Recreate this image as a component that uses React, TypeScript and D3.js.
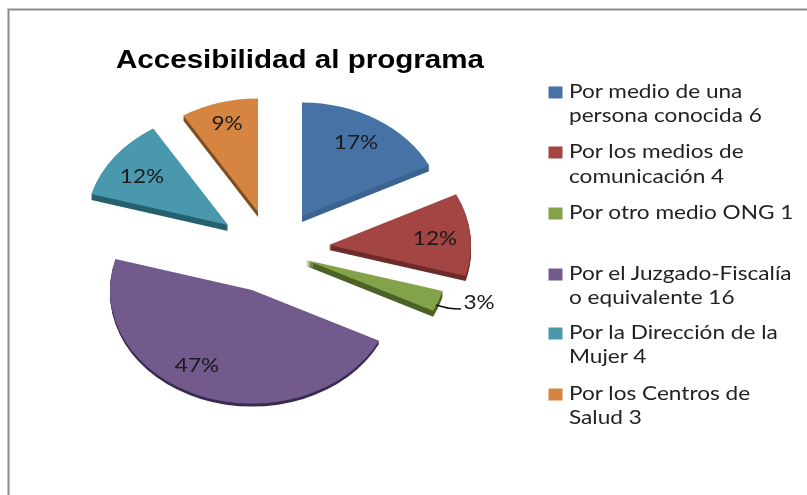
import React from "react";
import * as d3 from "d3";

const titleText = "Accesibilidad al programa";
const categories = [
  ["Por medio de una", "persona conocida 6"],
  ["Por los medios de", "comunicación 4"],
  ["Por otro medio ONG 1"],
  ["Por el Juzgado-Fiscalía", "o equivalente 16"],
  ["Por la Dirección de la", "Mujer 4"],
  ["Por los Centros de", "Salud 3"],
];
const values = [6, 4, 1, 16, 4, 3];
const percentLabels = ["17%", "12%", "3%", "47%", "12%", "9%"];

// styling and layout
const topColors = ["#4672A5", "#A34543", "#82A34A", "#725A8C", "#4898AE", "#D5853F"];
const sideColors = ["#3C6490", "#6E2C2B", "#4E6329", "#3A2D50", "#26606F", "#7E4E20"];
const apexes: [number, number][] = [[302, 216], [329, 245], [306, 260], [252, 290], [228, 225], [258, 212]];
const depths = [6, 5, 6, 3, 6, 5];
const labelPos: [number, number][] = [[356, 142], [435, 238], [479, 302], [197, 365], [142, 176], [227, 123]];
const legendBaselines = [[98, 122], [158, 183], [219], [280, 304], [339, 363], [400, 424]];
const rx = 142;
const yScale = 0.8;
const stretch = 1.19;
const fontFamily = "Lato, sans-serif";

export default function App() {
  const pieData = d3.pie<number>().sort(null).value((d) => d)(values);
  const arc = d3.arc<d3.PieArcDatum<number>>().innerRadius(0).outerRadius(rx);
  return (
    <svg
      width={807}
      height={495}
      style={{ position: "absolute", left: 0, top: 0, background: "#fff" }}
    >
      <defs>
        <filter id="soft" x="-2%" y="-2%" width="104%" height="104%">
          <feGaussianBlur stdDeviation="0.55" />
        </filter>
      </defs>
      <g filter="url(#soft)">
        <path d="M8.5,495V9.5H807" fill="none" stroke="#8c8c8c" strokeWidth={2} />
        {pieData.map((d, i) => (
          <g key={i}>
            {d3.range(depths[i], 0, -1).map((dy) => (
              <path
                key={dy}
                d={arc(d) ?? ""}
                fill={sideColors[i]}
                transform={`translate(${apexes[i][0]},${apexes[i][1] + dy}) scale(1,${yScale})`}
              />
            ))}
            <path
              d={arc(d) ?? ""}
              fill={topColors[i]}
              transform={`translate(${apexes[i][0]},${apexes[i][1]}) scale(1,${yScale})`}
            />
          </g>
        ))}
        <path d="M436,305C447,308 450,309 461,309" fill="none" stroke="#111" strokeWidth={1.5} />
        {percentLabels.map((t, i) => (
          <text
            key={i}
            transform={`translate(${labelPos[i][0]},${labelPos[i][1] + 6.5}) scale(${stretch},1)`}
            textAnchor="middle"
            fontFamily={fontFamily}
            fontSize={19}
            fill="#1a1a1a"
          >
            {t}
          </text>
        ))}
        <text
          x={300}
          y={68}
          textAnchor="middle"
          fontFamily="'Liberation Sans', sans-serif"
          fontWeight={700}
          fontSize={25}
          fill="#000"
          textLength={368}
          lengthAdjust="spacingAndGlyphs"
        >
          {titleText}
        </text>
        {categories.map((lines, i) => (
          <g key={i}>
            <rect x={548.5} y={legendBaselines[i][0] - 11.5} width={14} height={12} fill={topColors[i]} />
            {lines.map((l, j) => (
              <text
                key={j}
                transform={`translate(569,${legendBaselines[i][j]}) scale(${stretch},1)`}
                fontFamily={fontFamily}
                fontSize={19}
                fill="#222"
              >
                {l}
              </text>
            ))}
          </g>
        ))}
      </g>
    </svg>
  );
}
